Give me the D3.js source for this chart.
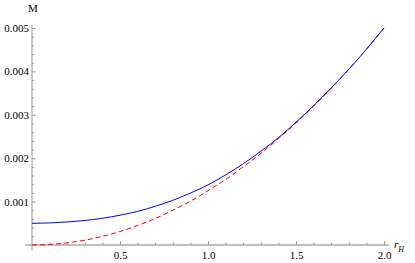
<!DOCTYPE html>
<html>
<head>
<script src="https://d3js.org/d3.v7.min.js"></script>
<style>
	body { margin: 0; background: #fff; }
	svg { display: block; background: #fff; }
	.axis text { font-family: 'Liberation Serif', 'DejaVu Serif', serif; font-size: 11px; fill: #000; }
	.axis line { stroke: #999; }
	.axis path { display: none; }
	.lbl { font-family: 'Liberation Serif', 'DejaVu Serif', serif; fill: #000; }
</style>
</head>
<body>
<svg class="chart" width="415" height="263"></svg>
<script>
// values
var rH = [0, 0.1, 0.2, 0.3, 0.4, 0.5, 0.6, 0.7, 0.8, 0.9, 1.0, 1.1, 1.2, 1.3, 1.4, 1.5, 1.6, 1.7, 1.8, 1.9, 2.0];
var blueM = [0.0005, 0.000508, 0.00053, 0.000565, 0.000615, 0.000687, 0.000775, 0.000892, 0.00103, 0.001197, 0.001385,
	0.001615, 0.00187, 0.00216, 0.00247, 0.00283, 0.00321, 0.00362, 0.00405, 0.00451, 0.005];
var redM = [0, 0.0000125, 0.00005, 0.00011, 0.0002, 0.00031, 0.00045, 0.00061, 0.0008, 0.00101, 0.00125,
	0.00151, 0.0018, 0.00211, 0.00245, 0.00281, 0.0032, 0.00361, 0.00405, 0.00451, 0.005];
var xMajor = [0.5, 1.0, 1.5, 2.0];
var xMinor = [0.1, 0.2, 0.3, 0.4, 0.6, 0.7, 0.8, 0.9, 1.1, 1.2, 1.3, 1.4, 1.6, 1.7, 1.8, 1.9];
var yMajor = [0.001, 0.002, 0.003, 0.004, 0.005];
var yMinor = [0.0002, 0.0004, 0.0006, 0.0008, 0.0012, 0.0014, 0.0016, 0.0018, 0.0022, 0.0024, 0.0026, 0.0028,
	0.0032, 0.0034, 0.0036, 0.0038, 0.0042, 0.0044, 0.0046, 0.0048];

var svg = d3.select(".chart");

var x = d3.scaleLinear().domain([0, 2]).range([32, 384]);
var y = d3.scaleLinear().domain([0, 0.005]).range([245, 28]);

// axis lines
svg.append("line")
	.attr("x1", x(-0.04)).attr("x2", x(2.03))
	.attr("y1", y(0)).attr("y2", y(0))
	.attr("stroke", "#aaa").attr("stroke-width", 1.5);
svg.append("line")
	.attr("x1", x(0)).attr("x2", x(0))
	.attr("y1", y(-0.00012)).attr("y2", y(0.00507))
	.attr("stroke", "#999").attr("stroke-width", 1);

// x ticks
svg.append("g").attr("class", "axis")
	.attr("transform", "translate(0," + y(0) + ")")
	.call(d3.axisBottom(x).tickValues(xMinor).tickSize(-2.5).tickFormat(""));
svg.append("g").attr("class", "axis")
	.attr("transform", "translate(0," + y(0) + ")")
	.call(d3.axisBottom(x).tickValues(xMajor).tickSize(-4).tickPadding(6).tickFormat(d3.format(".1f")));

// y ticks
svg.append("g").attr("class", "axis")
	.attr("transform", "translate(" + x(0) + ",0)")
	.call(d3.axisLeft(y).tickValues(yMinor).tickSize(-2).tickFormat(""));
svg.append("g").attr("class", "axis")
	.attr("transform", "translate(" + x(0) + ",0)")
	.call(d3.axisLeft(y).tickValues(yMajor).tickSize(-3.5).tickPadding(3).tickFormat(d3.format(".3f")));

var line = d3.line().curve(d3.curveMonotoneX);

svg.append("path")
	.attr("d", line(rH.map(function(d, i) { return [x(d), y(redM[i])]; })))
	.attr("fill", "none").attr("stroke", "#ff0000").attr("stroke-width", 1)
	.attr("stroke-dasharray", "5,3");

svg.append("path")
	.attr("d", line(rH.map(function(d, i) { return [x(d), y(blueM[i])]; })))
	.attr("fill", "none").attr("stroke", "#0000ff").attr("stroke-width", 1);

// axis labels
svg.append("text").attr("class", "lbl")
	.attr("x", 33).attr("y", 12).attr("text-anchor", "middle")
	.style("font-size", "11px").text("M");

var rl = svg.append("text").attr("class", "lbl")
	.attr("x", 394).attr("y", 248)
	.style("font-size", "11px").style("font-style", "italic");
rl.append("tspan").text("r");
rl.append("tspan").attr("dy", 4).style("font-size", "8px").text("H");
</script>
</body>
</html>
